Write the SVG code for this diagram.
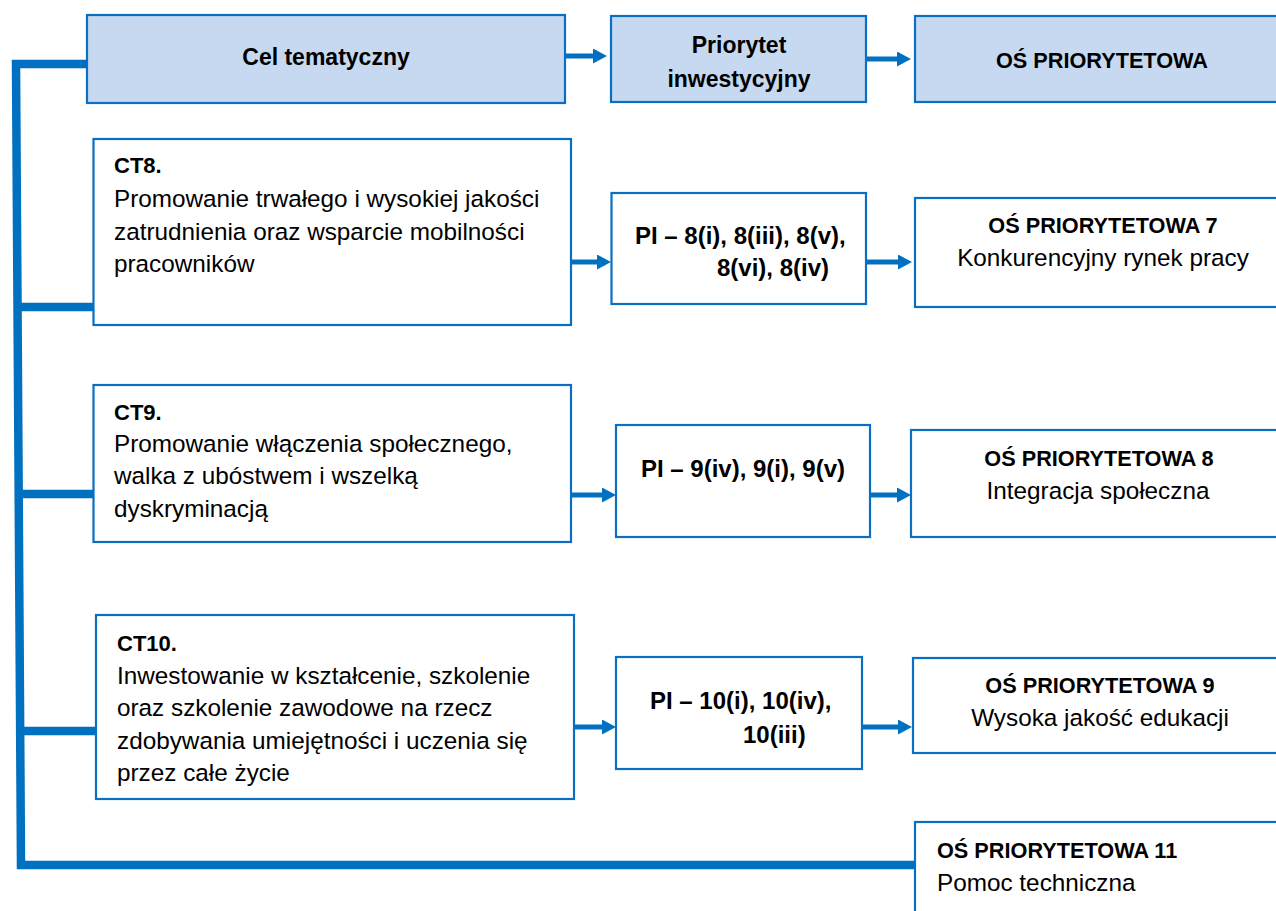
<svg xmlns="http://www.w3.org/2000/svg" width="1276" height="911" viewBox="0 0 1276 911">
<style>
  .hdr { fill: #C6D9F1; stroke: #0A6FC2; stroke-width: 2.2; }
  .box { fill: #FFFFFF; stroke: #0A6FC2; stroke-width: 2.2; }
  text { font-family: "Liberation Sans", Arial, sans-serif; fill: #000; }
  .hb { font-weight: bold; font-size: 23px; }
  .os { font-weight: bold; font-size: 21.7px; }
  .pi { font-weight: bold; font-size: 24px; }
  .ct { font-weight: bold; font-size: 22px; }
  .tx { font-size: 24.3px; }
  .mid { text-anchor: middle; }
  .br { fill: none; stroke: #0070C0; stroke-width: 8.5; stroke-linejoin: miter; }
  .ar { stroke: #0070C0; stroke-width: 5; fill: none; }
</style>
<defs>
  <marker id="ah" markerUnits="userSpaceOnUse" markerWidth="16" markerHeight="16" refX="0" refY="7.5" orient="auto">
    <path d="M0,0 L14,7.5 L0,15 z" fill="#0070C0"/>
  </marker>
</defs>

<g id="connectors">
  <path class="br" d="M87,64 L16,64 L21,865 L921,865"/>
  <line class="br" x1="18" y1="307" x2="93" y2="307"/>
  <line class="br" x1="19" y1="494" x2="93" y2="494"/>
  <line class="br" x1="20" y1="731" x2="96" y2="731"/>
  <line class="ar" x1="565" y1="56" x2="593" y2="56" marker-end="url(#ah)"/>
  <line class="ar" x1="867" y1="59" x2="897" y2="59" marker-end="url(#ah)"/>
  <line class="ar" x1="571" y1="262" x2="597" y2="262" marker-end="url(#ah)"/>
  <line class="ar" x1="867" y1="262" x2="898" y2="262" marker-end="url(#ah)"/>
  <line class="ar" x1="571" y1="495" x2="602" y2="495" marker-end="url(#ah)"/>
  <line class="ar" x1="871" y1="495" x2="897" y2="495" marker-end="url(#ah)"/>
  <line class="ar" x1="574" y1="727" x2="602" y2="727" marker-end="url(#ah)"/>
  <line class="ar" x1="863" y1="727" x2="898" y2="727" marker-end="url(#ah)"/>
</g>

<g id="cel">
  <rect class="hdr" x="87" y="15" width="478" height="88"/>
  <text class="hb mid" x="326" y="65">Cel tematyczny</text>
</g>
<g id="priorytet">
  <rect class="hdr" x="611" y="16" width="255" height="86"/>
  <text class="hb mid" x="739" y="53">Priorytet</text>
  <text class="hb mid" x="739" y="87">inwestycyjny</text>
</g>
<g id="os">
  <rect class="hdr" x="915" y="16" width="380" height="86"/>
  <text class="os mid" x="1102" y="68">OŚ PRIORYTETOWA</text>
</g>

<g id="ct8">
  <rect class="box" x="93.5" y="139" width="477.5" height="186"/>
  <text class="ct" x="114" y="173">CT8.</text>
  <text class="tx" x="114" y="207">Promowanie trwałego i wysokiej jakości</text>
  <text class="tx" x="114" y="240">zatrudnienia oraz wsparcie mobilności</text>
  <text class="tx" x="114" y="272">pracowników</text>
</g>
<g id="pi8">
  <rect class="box" x="611.5" y="193" width="254.5" height="111"/>
  <text class="pi" x="635" y="244">PI – 8(i), 8(iii), 8(v),</text>
  <text class="pi" x="717" y="276">8(vi), 8(iv)</text>
</g>
<g id="os7">
  <rect class="box" x="915" y="198" width="380" height="109"/>
  <text class="os mid" x="1103" y="233">OŚ PRIORYTETOWA 7</text>
  <text class="tx mid" x="1103" y="266">Konkurencyjny rynek pracy</text>
</g>

<g id="ct9">
  <rect class="box" x="93.5" y="385" width="477.5" height="157"/>
  <text class="ct" x="114" y="420">CT9.</text>
  <text class="tx" x="114" y="452">Promowanie włączenia społecznego,</text>
  <text class="tx" x="114" y="484">walka z ubóstwem i wszelką</text>
  <text class="tx" x="114" y="517">dyskryminacją</text>
</g>
<g id="pi9">
  <rect class="box" x="616" y="425" width="254" height="112"/>
  <text class="pi mid" x="743" y="477">PI – 9(iv), 9(i), 9(v)</text>
</g>
<g id="os8">
  <rect class="box" x="911" y="430" width="380" height="107"/>
  <text class="os mid" x="1099" y="466">OŚ PRIORYTETOWA 8</text>
  <text class="tx mid" x="1098" y="499">Integracja społeczna</text>
</g>

<g id="ct10">
  <rect class="box" x="96" y="615" width="478" height="184"/>
  <text class="ct" x="117" y="651">CT10.</text>
  <text class="tx" x="117" y="683.5">Inwestowanie w kształcenie, szkolenie</text>
  <text class="tx" x="117" y="716">oraz szkolenie zawodowe na rzecz</text>
  <text class="tx" x="117" y="748.5">zdobywania umiejętności i uczenia się</text>
  <text class="tx" x="117" y="781">przez całe życie</text>
</g>
<g id="pi10">
  <rect class="box" x="616" y="657" width="246" height="112"/>
  <text class="pi" x="650" y="709">PI – 10(i), 10(iv),</text>
  <text class="pi" x="743" y="743">10(iii)</text>
</g>
<g id="os9">
  <rect class="box" x="913" y="658" width="380" height="95"/>
  <text class="os mid" x="1100" y="693">OŚ PRIORYTETOWA 9</text>
  <text class="tx mid" x="1100" y="726">Wysoka jakość edukacji</text>
</g>

<g id="os11">
  <rect class="box" x="915" y="822" width="380" height="110"/>
  <text class="os" x="937" y="858">OŚ PRIORYTETOWA 11</text>
  <text class="tx" x="937" y="891">Pomoc techniczna</text>
</g>
</svg>
